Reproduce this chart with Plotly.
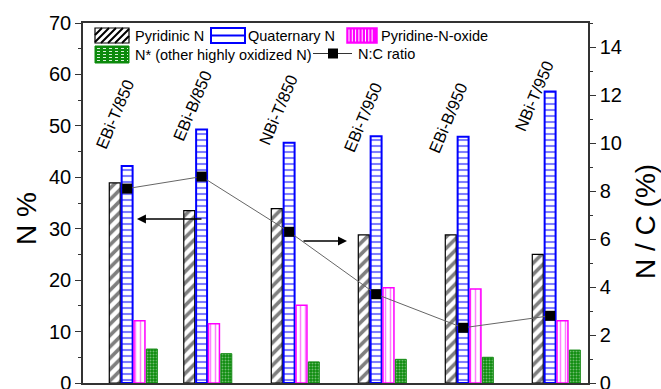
import plotly.graph_objects as go

# ---------------- data ----------------
categories = ["EBi-T/850", "EBi-B/850", "NBi-T/850", "EBi-T/950", "EBi-B/950", "NBi-T/950"]
x_pos = [1.0, 1.856, 2.862, 3.862, 4.862, 5.862]
pyridinic = [38.9, 33.5, 33.9, 28.8, 28.8, 25.0]
quaternary = [42.2, 49.3, 46.7, 48.0, 47.9, 56.7]
pyridine_oxide = [12.1, 11.5, 15.1, 18.5, 18.3, 12.1]
n_star = [6.6, 5.7, 4.1, 4.6, 5.0, 6.4]
nc_ratio = [8.1, 8.6, 6.3, 3.7, 2.3, 2.8]
left_ticks = [0, 10, 20, 30, 40, 50, 60, 70]
right_ticks = [0, 2, 4, 6, 8, 10, 12, 14]

# label anchor positions (layout)
label_x = [0.78, 1.667, 2.655, 3.632, 4.609, 5.598]
label_y = [52.3, 53.9, 53.1, 51.7, 51.5, 55.8]

W, H = 661, 389
PLOT_L, PLOT_T, PLOT_R, PLOT_B = 83, 23, 588, 383   # page coords of plot area
ML, MT = PLOT_L, PLOT_T
MR = W - PLOT_R
MB = H - PLOT_B
PW, PH = PLOT_R - PLOT_L, PLOT_B - PLOT_T

BW = 0.126
STEP = 0.142
FONT = "Liberation Sans, Arial, sans-serif"

fig = go.Figure()

series = [
    ("Pyridinic N", pyridinic, dict(shape="/", size=8, solidity=0.45, fgcolor="black", bgcolor="white"), "black", 1.2),
    ("Quaternary N", quaternary, dict(shape="-", size=6, solidity=0.35, fgcolor="#0000ff", bgcolor="white"), "#0000ff", 2),
    ("Pyridine-N-oxide", pyridine_oxide, dict(shape="|", size=5, solidity=0.3, fgcolor="#ff00ff", bgcolor="white"), "#ff00ff", 1.5),
    ("N* (other highly oxidized N)", n_star, dict(shape=".", size=3, solidity=0.35, fgcolor="#d8f0d8", bgcolor="#0c8a0c"), "#118811", 1),
]
for i, (name, vals, pat, lc, lw) in enumerate(series):
    fig.add_trace(go.Bar(
        x=x_pos, y=vals, name=name, width=BW, offset=-2 * STEP + i * STEP,
        marker=dict(color=pat["bgcolor"], pattern=pat, line=dict(color=lc, width=lw)),
        showlegend=False,
    ))

fig.add_trace(go.Scatter(
    x=[v - STEP + BW / 2 for v in x_pos], y=nc_ratio, yaxis="y2", mode="lines+markers",
    line=dict(color="#666666", width=1),
    marker=dict(symbol="square", size=10, color="black"),
    name="N:C ratio", showlegend=False,
))

# ---------------- custom legend ----------------
def px(x):
    return (x - PLOT_L) / PW

def py(y):
    return (PLOT_B - y) / PH

shapes = []

def rect(x0, y0, x1, y1, line_color, line_w, fill):
    shapes.append(dict(type="rect", xref="paper", yref="paper", x0=px(x0), x1=px(x1),
                       y0=py(y1), y1=py(y0), line=dict(color=line_color, width=line_w), fillcolor=fill))

def path(segs, color, width, dash="solid"):
    d = ""
    for (a, b, c, e) in segs:
        d += f"M{px(a)},{py(b)} L{px(c)},{py(e)} "
    shapes.append(dict(type="path", xref="paper", yref="paper", path=d,
                       line=dict(color=color, width=width, dash=dash)))

# Pyridinic swatch
x0, y0, x1, y1 = 95, 28, 129, 43
rect(x0, y0, x1, y1, "white", 0, "white")
segs = []
h = y1 - y0
c = -h
while c < (x1 - x0):
    ax, ay = x0 + c, y1
    bx, by = x0 + c + h, y0
    if ax < x0:
        ay = y1 - (x0 - ax); ax = x0
    if bx > x1:
        by = y0 + (bx - x1); bx = x1
    if bx > ax:
        segs.append((ax, ay, bx, by))
    c += 7
path(segs, "black", 2)
rect(x0, y0, x1, y1, "black", 1.2, "rgba(0,0,0,0)")

# Quaternary swatch
rect(211, 28, 245, 43, "#0000ff", 2, "white")
path([(211, 35.5, 245, 35.5)], "#0000ff", 2)

# Pyridine-N-oxide swatch
rect(347, 28, 377, 43, "#ff00ff", 1.5, "#ff00ff")
path([(349 + 3.3 * k, 29.5, 349 + 3.3 * k, 41.5) for k in range(8)], "white", 1)

# N* swatch
rect(95, 46, 129, 63, "#0c8a0c", 1, "#0c8a0c")
path([(97, 48.5 + 3 * k, 128, 48.5 + 3 * k) for k in range(5)], "#d8f0d8", 1, "dot")

# N:C ratio
path([(313, 53.5, 352, 53.5)], "#333333", 1.2)
rect(328, 48.5, 338, 58.5, "black", 0, "black")

annotations = []
for txt, lx, ly in [("Pyridinic N", 133, 35.5), ("Quaternary N", 246, 35.5), ("Pyridine-N-oxide", 379, 35.5),
                    ("N* (other highly oxidized N)", 133, 54.5), ("N:C ratio", 356, 54)]:
    annotations.append(dict(text=txt, x=px(lx), y=py(ly), xref="paper", yref="paper", xanchor="left",
                            yanchor="middle", showarrow=False, font=dict(size=14.5, color="black", family=FONT)))

# sample labels
for t, lx, ly in zip(categories, label_x, label_y):
    annotations.append(dict(text=t, x=lx, y=ly, xref="x", yref="y", showarrow=False, textangle=-67,
                            xanchor="center", yanchor="middle", font=dict(size=16.5, color="black", family=FONT)))

# arrows
annotations.append(dict(x=1.034, y=31.9, ax=1.793, ay=31.9, xref="x", yref="y", axref="x", ayref="y",
                        showarrow=True, arrowhead=2, arrowsize=1.2, arrowwidth=1.5, arrowcolor="black", text=""))
annotations.append(dict(x=3.448, y=27.6, ax=2.931, ay=27.6, xref="x", yref="y", axref="x", ayref="y",
                        showarrow=True, arrowhead=2, arrowsize=1.2, arrowwidth=1.5, arrowcolor="black", text=""))

# axis titles
annotations.append(dict(text="N %", x=px(26), y=py(219), xref="paper", yref="paper", showarrow=False,
                        xanchor="center", yanchor="middle",
                        textangle=-90, font=dict(size=28, color="black", family=FONT)))
annotations.append(dict(text="N / C (%)", x=px(645), y=py(222), xref="paper", yref="paper", showarrow=False,
                        xanchor="center", yanchor="middle",
                        textangle=-90, font=dict(size=28, color="black", family=FONT)))

fig.update_layout(
    width=W, height=H, margin=dict(l=ML, r=MR, t=MT, b=MB, autoexpand=False),
    paper_bgcolor="white", plot_bgcolor="white", barmode="overlay",
    font=dict(family=FONT, color="black"),
    xaxis=dict(range=[1 - 51 / 87, 1 + 454 / 87], showticklabels=False, ticks="", showgrid=False,
               zeroline=False, showline=True, linecolor="#333333", linewidth=2, mirror=True),
    yaxis=dict(range=[0, 70], tickvals=left_ticks, ticks="outside", ticklen=6, tickcolor="#333333",
               minor=dict(dtick=5, ticks="outside", ticklen=3, tickcolor="#333333"),
               showgrid=False, zeroline=False, showline=True, linecolor="#333333", linewidth=1.5,
               ticklabeloverflow="allow", tickfont=dict(size=20, family=FONT)),
    yaxis2=dict(range=[0, 15], overlaying="y", side="right", tickvals=right_ticks, ticks="outside",
                ticklen=6, tickcolor="#333333",
                minor=dict(dtick=1, ticks="outside", ticklen=3, tickcolor="#333333"),
                showgrid=False, zeroline=False, showline=True, linecolor="#333333", linewidth=1.5,
                ticklabeloverflow="allow", tickfont=dict(size=20, family=FONT)),
    shapes=shapes, annotations=annotations, showlegend=False,
)

fig.write_html("out.html", config={"displayModeBar": False},
               post_script="document.body.style.margin='0';document.body.style.overflow='hidden';")
